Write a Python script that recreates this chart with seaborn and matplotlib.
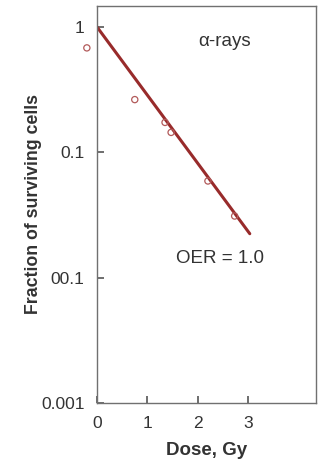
import matplotlib
matplotlib.use("Agg")
import matplotlib.pyplot as plt
import seaborn as sns
import pandas as pd

# Data
dose_points = [-0.2, 0.75, 1.35, 1.47, 2.2, 2.73]
surv_points = [0.68, 0.263, 0.173, 0.144, 0.059, 0.031]
fit_dose = [0.0, 3.03]
fit_surv = [1.0, 0.0224]
xticks = [0, 1, 2, 3]
yticks = [1, 0.1, 0.01, 0.001]
ytick_labels = ["1", "0.1", "00.1", "0.001"]

sns.set_style("white")
plt.rcParams['font.family'] = ['Liberation Sans', 'DejaVu Sans']
plt.rcParams.update({
    "xtick.bottom": True, "ytick.left": True,
    "xtick.direction": "in", "ytick.direction": "in",
    "xtick.major.size": 5, "ytick.major.size": 5,
    "xtick.major.width": 1.2, "ytick.major.width": 1.2,
    "xtick.color": "#555555", "ytick.color": "#555555",
})

fig = plt.figure(figsize=(3.21, 4.65), dpi=100)
ax = fig.add_axes([0.302, 0.1333, 0.682, 0.854])

line_df = pd.DataFrame({"dose": fit_dose, "surv": fit_surv})
pts_df = pd.DataFrame({"dose": dose_points, "surv": surv_points})

sns.lineplot(data=line_df, x="dose", y="surv", ax=ax, color="#982b2b", linewidth=2.2)
sns.scatterplot(data=pts_df, x="dose", y="surv", ax=ax, marker="o", s=20,
                facecolor="none", edgecolor="#b25a5a", linewidth=0.9, clip_on=False, zorder=3)

ax.set_yscale("log")
ax.set_xlim(0, 4.34)
ax.set_ylim(0.001, 1.47)
ax.set_yticks(yticks)
ax.set_yticklabels(ytick_labels)
ax.set_yticks([], minor=True)
ax.set_xticks(xticks)
ax.set_xticklabels([str(t) for t in xticks])

for s in ax.spines.values():
    s.set_visible(True)
    s.set_color("#707070")
    s.set_linewidth(1.0)

ax.tick_params(axis="both", which="major", direction="in", length=5, width=1.2,
               color="#555555", labelsize=12.5, labelcolor="#333333",
               bottom=True, left=True, top=False, right=False)
ax.tick_params(axis="y", pad=9)
ax.tick_params(axis="x", pad=9.5)

ax.text(2.53, 0.77, "α-rays", ha="center", va="center", fontsize=13.5, color="#333333")
ax.text(2.44, 0.0141, "OER = 1.0", ha="center", va="center", fontsize=13.5, color="#333333")

ax.set_xlabel("Dose, Gy", fontsize=13.5, fontweight="bold", color="#333333", labelpad=8)
ax.set_ylabel("Fraction of surviving cells", fontsize=12.8, fontweight="bold",
              color="#333333")
ax.yaxis.set_label_coords(-0.25, 0.5)

fig.savefig("out.png", dpi=100)
